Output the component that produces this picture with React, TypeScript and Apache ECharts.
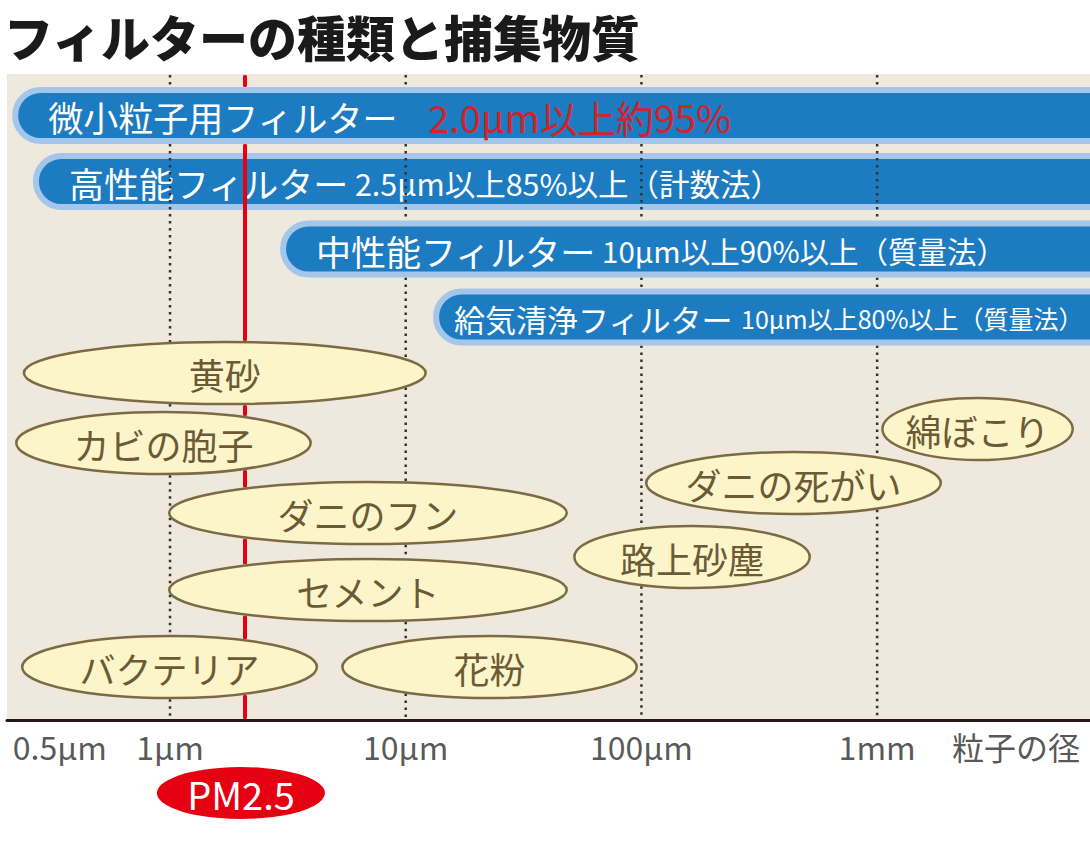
import React, { useEffect, useRef } from 'react';
import * as echarts from 'echarts';

// ---------- data ----------
const chartTitle = 'フィルターの種類と捕集物質';

const filterNames = ['微小粒子用フィルター', '高性能フィルター', '中性能フィルター', '給気清浄フィルター'];
const filterNotes = ['2.0µm以上約95%', '2.5µm以上85%以上（計数法）', '10µm以上90%以上（質量法）', '10µm以上80%以上（質量法）'];
const filterMinSize = [0.214, 0.262, 2.93, 13.06]; // µm (left end of each bar)
const filterRow = [41.5, 107.5, 175, 243];

const particleNames = ['黄砂', 'カビの胞子', '綿ぼこり', 'ダニの死がい', 'ダニのフン', '路上砂塵', 'セメント', 'バクテリア', '花粉'];
const particleMin = [0.237, 0.22, 1040, 103.5, 0.98, 51.3, 0.98, 0.233, 5.32]; // µm
const particleMax = [12.3, 4.0, 6840, 1885, 48.8, 524, 48.8, 4.25, 96.7]; // µm
const particleRow = [299, 369, 355, 409, 439, 483, 516, 593, 593];

const gridLineValues = [1, 10, 100, 1000];
const tickLabels = ['0.5µm', '1µm', '10µm', '100µm', '1mm', '粒子の径'];
const tickLabelAt = [0.341, 1, 10, 100, 1000, 3880];
const pmLineAt = 2.08;
const pmBadgeAt = 2.0;
const pmLabel = 'PM2.5';

const X_MIN = 0.2034;
const X_MAX = 8000;
const Y_MAX = 646;

// ---------- styles ----------
const FONT = '"Noto Sans CJK JP", "Noto Sans", sans-serif';
const BLUE = '#1c7bc1';
const BLUE_EDGE = '#a4c6ea';
const NOTE_RED = '#d2232a';
const PM_RED = '#e50012';
const BG = '#eee8dd';
const ELL_FILL = '#fcf5c9';
const ELL_STROKE = '#7c6a44';
const ELL_TEXT = '#6b5a36';
const BAR_H = 51;
const ELL_RY = 31;

const nameFont = [35, 35, 35, 31];
const noteFont = [38, 30.5, 29.5, 25];
const noteColor = [NOTE_RED, '#ffffff', '#ffffff', '#ffffff'];
const noteGap = [30, 6, 6, 8];
const textInset = [33, 33, 33, 18];
const lineUnder = [1]; // bars drawn beneath the dotted / PM lines

const barElement = (api: any, i: number) => {
  const start = api.coord([filterMinSize[i], filterRow[i]]);
  const end = api.coord([X_MAX, filterRow[i]]);
  const h = BAR_H;
  const x0 = start[0] + 3;
  return {
    type: 'group',
    children: [
      {
        type: 'rect',
        shape: { x: x0, y: start[1] - h / 2, width: end[0] + 80 - x0, height: h, r: h / 2 },
        style: { fill: BLUE, stroke: BLUE_EDGE, lineWidth: 6, opacity: 1 },
      },
      {
        type: 'text',
        x: x0 + textInset[i],
        y: start[1] + 1,
        style: {
          text: `{n|${filterNames[i]}}{m|${filterNotes[i]}}`,
          align: 'left',
          verticalAlign: 'middle',
          rich: {
            n: { fontSize: nameFont[i], fontFamily: FONT, fill: '#ffffff', fontWeight: 400 },
            m: {
              fontSize: noteFont[i],
              fontFamily: FONT,
              fill: noteColor[i],
              fontWeight: 400,
              padding: [0, 0, 0, noteGap[i]],
            },
          },
        },
      },
    ],
  };
};

const ellipseElement = (api: any, i: number) => {
  const a = api.coord([particleMin[i], particleRow[i]]);
  const b = api.coord([particleMax[i], particleRow[i]]);
  const cx = (a[0] + b[0]) / 2;
  const rx = (b[0] - a[0]) / 2 - 1.25;
  return {
    type: 'group',
    children: [
      {
        type: 'ellipse',
        shape: { cx, cy: a[1], rx, ry: ELL_RY },
        style: { fill: ELL_FILL, stroke: ELL_STROKE, lineWidth: 2.5, opacity: 1 },
      },
      {
        type: 'text',
        x: cx,
        y: a[1] + 1,
        style: {
          text: particleNames[i],
          fill: ELL_TEXT,
          fontSize: 36,
          fontFamily: FONT,
          fontWeight: 400,
          align: 'center',
          verticalAlign: 'middle',
        },
      },
    ],
  };
};

// vertical spans (in pixels) of a line at px that lie behind the over-drawn bars and the ellipses
const coveredIntervals = (api: any, px: number) => {
  const out: number[][] = [];
  filterNames.forEach((_, i) => {
    if (lineUnder.includes(i)) return;
    const s = api.coord([filterMinSize[i], filterRow[i]]);
    if (px > s[0] + BAR_H / 2) out.push([s[1] - BAR_H / 2 - 3, s[1] + BAR_H / 2 + 3]);
  });
  particleNames.forEach((_, i) => {
    const a = api.coord([particleMin[i], particleRow[i]]);
    const b = api.coord([particleMax[i], particleRow[i]]);
    const cx = (a[0] + b[0]) / 2;
    const rx = (b[0] - a[0]) / 2;
    const dx = px - cx;
    if (Math.abs(dx) < rx) {
      const half = (ELL_RY + 1.25) * Math.sqrt(1 - (dx / rx) * (dx / rx));
      out.push([a[1] - half, a[1] + half]);
    }
  });
  return out.sort((p, q) => p[0] - q[0]);
};

const visibleSegments = (y0: number, y1: number, covered: number[][]) => {
  const segs: number[][] = [];
  let cur = y0;
  covered.forEach((c) => {
    if (cur >= y1) return;
    if (c[1] <= cur) return;
    if (c[0] > cur) segs.push([cur, Math.min(c[0], y1)]);
    cur = Math.max(cur, c[1]);
  });
  if (cur < y1) segs.push([cur, y1]);
  return segs.filter((s) => s[1] - s[0] > 0.5);
};

const dottedElement = (api: any, x: number) => {
  const top = api.coord([x, 0]);
  const bottom = api.coord([x, Y_MAX]);
  const segs = visibleSegments(top[1] + 1, bottom[1] - 1, coveredIntervals(api, top[0]));
  return {
    type: 'group',
    children: segs.map((s) => ({
      type: 'line',
      shape: { x1: top[0], y1: s[0], x2: top[0], y2: s[1] },
      style: { stroke: '#333333', lineWidth: 2.5, lineDash: [2.5, 4.5], fill: null },
    })),
  };
};

const pmElement = (api: any, x: number) => {
  const top = api.coord([x, 0]);
  const bottom = api.coord([x, Y_MAX]);
  const segs = visibleSegments(top[1] + 1, bottom[1] - 1, coveredIntervals(api, top[0]));
  return {
    type: 'group',
    children: segs.map((s) => ({
      type: 'rect',
      shape: { x: top[0] - 2, y: s[0], width: 4, height: s[1] - s[0], r: 1.5 },
      style: { fill: PM_RED },
    })),
  };
};

// one item per element: [kind, index]
// kind 0 = filter bar, 1 = decade line, 2 = PM line, 3 = particle
const diagramRender = (params: any, api: any) => {
  const kind = api.value(0);
  const i = api.value(1);
  if (kind === 0) return barElement(api, i);
  if (kind === 1) return dottedElement(api, gridLineValues[i]);
  if (kind === 2) return pmElement(api, pmLineAt);
  return ellipseElement(api, i);
};

export default function App() {
  const ref = useRef<HTMLDivElement>(null);

  useEffect(() => {
    document.body.style.margin = '0';
    if (!ref.current) return;
    const chart = echarts.init(ref.current, null, { renderer: 'svg' });

    const underBars = filterNames.map((_, i) => i).filter((i) => lineUnder.includes(i));
    const overBars = filterNames.map((_, i) => i).filter((i) => !lineUnder.includes(i));

    const option: any = {
      animation: false,
      title: {
        text: chartTitle,
        left: 4,
        top: 0,
        padding: 0,
        textStyle: { fontSize: 49, lineHeight: 70, fontWeight: 900, color: '#1a1a1a', fontFamily: FONT },
      },
      grid: { left: 7, right: 0, top: 74, height: Y_MAX, show: true, backgroundColor: BG, borderWidth: 0 },
      xAxis: {
        type: 'log',
        logBase: 10,
        min: X_MIN,
        max: X_MAX,
        axisLine: { show: true, onZero: false, lineStyle: { color: '#231815', width: 3 } },
        axisTick: { show: false },
        axisLabel: { show: false },
        splitLine: { show: false },
      },
      yAxis: { type: 'value', inverse: true, min: 0, max: Y_MAX, show: false },
      series: [
        {
          type: 'custom',
          name: 'filters-under',
          z: 1,
          renderItem: diagramRender,
          encode: { x: -1, y: -1 },
          data: underBars.map((i) => [0, i]),
        },
        {
          type: 'custom',
          name: 'lines',
          z: 2,
          renderItem: diagramRender,
          encode: { x: -1, y: -1 },
          data: [...gridLineValues.map((_, i) => [1, i]), [2, 0]],
        },
        {
          type: 'custom',
          name: 'filters',
          z: 3,
          renderItem: diagramRender,
          encode: { x: -1, y: -1 },
          data: overBars.map((i) => [0, i]),
        },
        {
          type: 'custom',
          name: 'particles',
          z: 4,
          renderItem: diagramRender,
          encode: { x: -1, y: -1 },
          data: particleNames.map((_, i) => [3, i]),
        },
        {
          type: 'scatter',
          name: 'ticks',
          z: 5,
          clip: false,
          symbolSize: 1,
          itemStyle: { color: 'rgba(0,0,0,0)' },
          data: tickLabelAt.map((v, i) => ({ value: [v, 672], name: tickLabels[i] })),
          label: {
            show: true,
            position: 'inside',
            formatter: (p: any) => p.name,
            fontSize: 32,
            fontFamily: FONT,
            color: '#2b2b2b',
          },
        },
        {
          type: 'scatter',
          name: 'pm',
          z: 5,
          clip: false,
          symbol: 'circle',
          symbolSize: [168, 52],
          itemStyle: { color: PM_RED, opacity: 1 },
          data: [{ value: [pmBadgeAt, 719], name: pmLabel }],
          label: {
            show: true,
            position: 'inside',
            formatter: (p: any) => p.name,
            fontSize: 38,
            fontFamily: FONT,
            color: '#ffffff',
          },
        },
      ],
    };

    chart.setOption(option);
    return () => chart.dispose();
  }, []);

  return <div ref={ref} style={{ width: 1090, height: 844 }} />;
}
